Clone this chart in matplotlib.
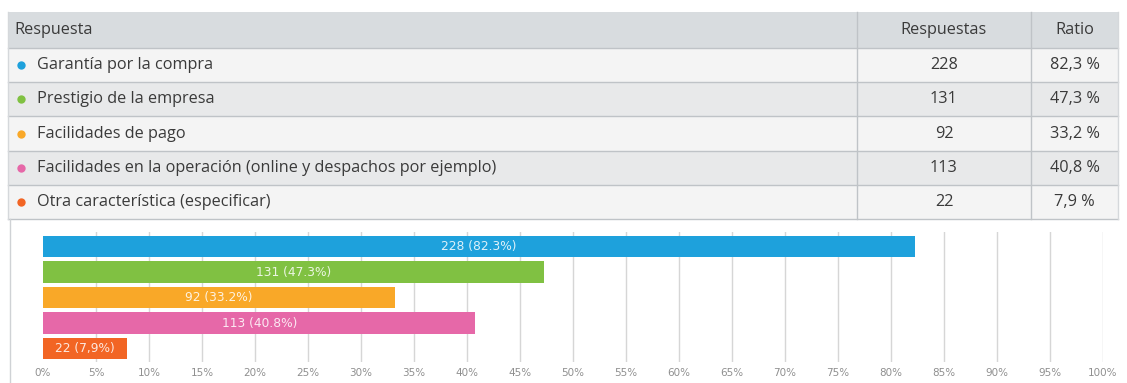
import matplotlib.pyplot as plt
from matplotlib.patches import Rectangle

# survey answers
respuestas = [
    "Garantía por la compra",
    "Prestigio de la empresa",
    "Facilidades de pago",
    "Facilidades en la operación (online y despachos por ejemplo)",
    "Otra característica (especificar)",
]
conteos = [228, 131, 92, 113, 22]
ratios = [82.3, 47.3, 33.2, 40.8, 7.9]
ratio_txt = ["82,3 %", "47,3 %", "33,2 %", "40,8 %", "7,9 %"]
bar_txt = ["228 (82.3%)", "131 (47.3%)", "92 (33.2%)", "113 (40.8%)", "22 (7,9%)"]
colores = ["#1ea1dc", "#80c142", "#f9a828", "#e668a8", "#f26524"]
ticks = list(range(0, 101, 5))

W, H = 1127, 383
plt.rcParams['font.family'] = ['Open Sans', 'DejaVu Sans']
fig = plt.figure(figsize=(W / 100, H / 100), dpi=100)

# table drawn in pixel coordinates
tab = fig.add_axes([0, 0, 1, 1])
tab.set_xlim(0, W)
tab.set_ylim(H, 0)
tab.axis('off')

x0, x1, x2, x3 = 8, 857, 1031, 1118
header_top, header_bot = 12, 48
row_h = 34.2
line_c = "#bfc3c7"
txt_c = "#3a3a3a"
fs = 11.7

tab.add_patch(Rectangle((x0, header_top), x3 - x0, header_bot - header_top,
                        facecolor="#d8dcdf", edgecolor="none"))
hy = (header_top + header_bot) / 2
tab.text(x0 + 6, hy, "Respuesta", fontsize=fs, color=txt_c, va="center")
tab.text((x1 + x2) / 2, hy, "Respuestas", fontsize=fs, color=txt_c,
         va="center", ha="center")
tab.text((x2 + x3) / 2, hy, "Ratio", fontsize=fs, color=txt_c,
         va="center", ha="center")

for i, (r, n, t, c) in enumerate(zip(respuestas, conteos, ratio_txt, colores)):
    top = header_bot + i * row_h
    fc = "#f4f4f4" if i % 2 == 0 else "#e8e9ea"
    tab.add_patch(Rectangle((x0, top), x3 - x0, row_h, facecolor=fc, edgecolor="none"))
    cy = top + row_h / 2
    tab.plot(21, cy, "o", ms=6, color=c, mec="none")
    tab.text(37, cy, r, fontsize=fs, color=txt_c, va="center")
    tab.text((x1 + x2) / 2, cy, str(n), fontsize=fs, color=txt_c,
             va="center", ha="center")
    tab.text((x2 + x3) / 2, cy, t, fontsize=fs, color=txt_c,
             va="center", ha="center")
    tab.plot([x0, x3], [top, top], color=line_c, lw=1)

table_bot = header_bot + len(respuestas) * row_h
tab.plot([x0, x3], [table_bot, table_bot], color=line_c, lw=1)
for x in (x1, x2):
    tab.plot([x, x], [header_top, table_bot], color=line_c, lw=1)
tab.plot([x0, x0], [header_top, table_bot], color="#d5d8db", lw=1)
tab.plot([x3, x3], [header_top, table_bot], color="#d5d8db", lw=1)
# chart panel left border
tab.plot([10, 10], [table_bot, H], color="#cfd2d5", lw=1)

# bar chart
ax = fig.add_axes([43 / W, 1 - 362 / H, 1060 / W, 130 / H])
ypos = list(range(len(ratios)))
ax.barh(ypos, ratios, height=0.84, color=colores, zorder=2)
for y, v, lab in zip(ypos, ratios, bar_txt):
    ax.text(v / 2, y, lab, color="white", fontsize=8.8, ha="center", va="center",
            family="DejaVu Sans", zorder=3, alpha=0.85)
ax.set_xlim(0, 100)
ax.set_ylim(4.53, -0.57)
ax.set_xticks(ticks)
ax.set_xticklabels([f"{t}%" for t in ticks], fontsize=7.5, color="#8f8f8f",
                   family="DejaVu Sans")
ax.tick_params(axis="x", length=0, pad=4)
ax.set_yticks([])
for t in ticks[1:]:
    ax.axvline(t, color="#d6d6d6", lw=1, zorder=1)
for s in ax.spines.values():
    s.set_visible(False)

fig.savefig("out.png", dpi=100, facecolor="white")
